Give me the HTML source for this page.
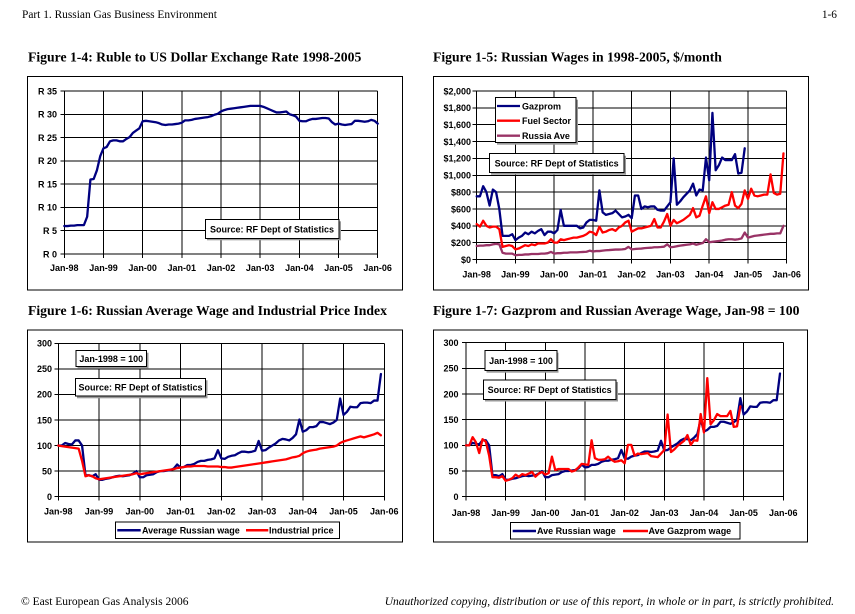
<!DOCTYPE html>
<html><head><meta charset="utf-8"><style>
html,body{margin:0;padding:0;background:#fff;}
svg{display:block;}
.hd{font-family:"Liberation Serif",serif;font-size:11.4px;fill:#000;}
.ti{font-family:"Liberation Serif",serif;font-size:13.7px;font-weight:bold;fill:#000;}
.ft{font-family:"Liberation Serif",serif;font-size:11.5px;fill:#000;}
.tk{font-family:"Liberation Sans",sans-serif;font-size:9px;font-weight:bold;fill:#000;}
.g{stroke:#000;stroke-width:1;fill:none;shape-rendering:crispEdges;}
.bx{fill:#fff;stroke:#000;stroke-width:1;shape-rendering:crispEdges;}
.sh{fill:#999;}
.ln{fill:none;stroke-width:2.3;stroke-linejoin:round;stroke-linecap:round;}
</style></head><body>
<svg width="855" height="614" viewBox="0 0 855 614" xmlns="http://www.w3.org/2000/svg">
<rect width="855" height="614" fill="#fff"/>
<text class="hd" x="22" y="18">Part 1. Russian Gas Business Environment</text>
<text class="hd" x="837" y="18" text-anchor="end">1-6</text>

<text class="ti" x="28" y="61.5">Figure 1-4: Ruble to US Dollar Exchange Rate 1998-2005</text>
<text class="ti" x="433" y="61.5">Figure 1-5: Russian Wages in 1998-2005, $/month</text>
<text class="ti" x="28" y="315">Figure 1-6: Russian Average Wage and Industrial Price Index</text>
<text class="ti" x="433" y="315">Figure 1-7: Gazprom and Russian Average Wage, Jan-98 = 100</text>

<!-- ============ CHART 1 ============ -->
<rect class="bx" x="27.5" y="76.5" width="375" height="213.5"/>
<path class="g" d="M64.3 254H377.7M64.3 230.7H377.7M64.3 207.4H377.7M64.3 184.1H377.7M64.3 160.9H377.7M64.3 137.6H377.7M64.3 114.3H377.7M64.3 91H377.7
M64.3 91V258M103.5 91V258M142.7 91V258M181.8 91V258M221 91V258M260.2 91V258M299.4 91V258M338.5 91V258M377.7 91V258
M60.3 254H64.3M60.3 230.7H64.3M60.3 207.4H64.3M60.3 184.1H64.3M60.3 160.9H64.3M60.3 137.6H64.3M60.3 114.3H64.3M60.3 91H64.3"/>
<g class="tk" text-anchor="end">
<text x="57" y="257.3">R 0</text><text x="57" y="234">R 5</text><text x="57" y="210.7">R 10</text><text x="57" y="187.4">R 15</text><text x="57" y="164.2">R 20</text><text x="57" y="140.9">R 25</text><text x="57" y="117.6">R 30</text><text x="57" y="94.3">R 35</text>
</g>
<g class="tk" text-anchor="middle">
<text x="64.3" y="271">Jan-98</text><text x="103.5" y="271">Jan-99</text><text x="142.7" y="271">Jan-00</text><text x="181.8" y="271">Jan-01</text><text x="221" y="271">Jan-02</text><text x="260.2" y="271">Jan-03</text><text x="299.4" y="271">Jan-04</text><text x="338.5" y="271">Jan-05</text><text x="377.7" y="271">Jan-06</text>
</g>
<g transform="translate(64.3,254) scale(3.2646,-4.6571)">
<polyline class="ln" vector-effect="non-scaling-stroke" stroke="#000080" points="0,6 1,6 2,6.1 3,6.1 4,6.2 5,6.2 6,6.2 7,8 8,16 9,16.1 10,18 11,21 12,22.7 13,23 14,24.2 15,24.4 16,24.4 17,24.2 18,24.2 19,24.7 20,25.1 21,26 22,26.5 23,27 24,28.5 25,28.6 26,28.5 27,28.4 28,28.3 29,28.1 30,27.8 31,27.7 32,27.8 33,27.8 34,27.9 35,28 36,28.2 37,28.7 38,28.7 39,28.8 40,29 41,29.1 42,29.2 43,29.3 44,29.4 45,29.6 46,29.9 47,30.1 48,30.6 49,30.9 50,31.1 51,31.2 52,31.3 53,31.4 54,31.5 55,31.6 56,31.7 57,31.8 58,31.8 59,31.8 60,31.8 61,31.6 62,31.3 63,31 64,30.7 65,30.4 66,30.4 67,30.5 68,30.6 69,30 70,29.8 71,29.5 72,28.6 73,28.5 74,28.5 75,28.8 76,29 77,29 78,29.1 79,29.2 80,29.2 81,29.1 82,28.3 83,27.8 84,28 85,27.8 86,27.7 87,27.8 88,27.9 89,28.6 90,28.6 91,28.5 92,28.4 93,28.5 94,28.8 95,28.6 96,28"/>
</g>
<rect class="sh" x="207" y="221.3" width="134" height="19"/>
<rect class="bx" x="205.5" y="219.5" width="133.5" height="19"/>
<text class="tk" x="272" y="232.3" text-anchor="middle">Source: RF Dept of Statistics</text>

<!-- ============ CHART 2 ============ -->
<rect class="bx" x="433.5" y="76.5" width="375" height="213.5"/>
<path class="g" d="M476.7 259.5H786.7M476.7 242.65H786.7M476.7 225.8H786.7M476.7 208.95H786.7M476.7 192.1H786.7M476.7 175.25H786.7M476.7 158.4H786.7M476.7 141.55H786.7M476.7 124.7H786.7M476.7 107.85H786.7M476.7 91H786.7
M476.7 91V263.5M515.45 91V263.5M554.2 91V263.5M592.95 91V263.5M631.7 91V263.5M670.45 91V263.5M709.2 91V263.5M747.95 91V263.5M786.7 91V263.5
M472.7 259.5H476.7M472.7 242.65H476.7M472.7 225.8H476.7M472.7 208.95H476.7M472.7 192.1H476.7M472.7 175.25H476.7M472.7 158.4H476.7M472.7 141.55H476.7M472.7 124.7H476.7M472.7 107.85H476.7M472.7 91H476.7"/>
<g class="tk" text-anchor="end">
<text x="471" y="262.8">$0</text><text x="471" y="246">$200</text><text x="471" y="229.1">$400</text><text x="471" y="212.3">$600</text><text x="471" y="195.4">$800</text><text x="471" y="178.6">$1,000</text><text x="471" y="161.7">$1,200</text><text x="471" y="144.9">$1,400</text><text x="471" y="128">$1,600</text><text x="471" y="111.2">$1,800</text><text x="471" y="94.3">$2,000</text>
</g>
<g class="tk" text-anchor="middle">
<text x="476.7" y="277.3">Jan-98</text><text x="515.45" y="277.3">Jan-99</text><text x="554.2" y="277.3">Jan-00</text><text x="592.95" y="277.3">Jan-01</text><text x="631.7" y="277.3">Jan-02</text><text x="670.45" y="277.3">Jan-03</text><text x="709.2" y="277.3">Jan-04</text><text x="747.95" y="277.3">Jan-05</text><text x="786.7" y="277.3">Jan-06</text>
</g>
<g transform="translate(476.7,259.5) scale(3.2292,-0.08425)">
<polyline class="ln" vector-effect="non-scaling-stroke" stroke="#000080" points="0,750 1,750 2,870 3,800 4,640 5,830 6,800 7,600 8,280 9,280 10,280 11,300 12,230 13,260 14,280 15,320 16,300 17,330 18,310 19,340 20,360 21,290 22,330 23,330 24,310 25,350 26,590 27,400 28,400 29,400 30,400 31,400 32,370 33,380 34,440 35,470 36,470 37,460 38,820 39,560 40,530 41,540 42,550 43,580 44,540 45,500 46,510 47,530 48,490 49,760 50,760 51,600 52,630 53,620 54,630 55,630 56,590 57,580 58,580 59,630 60,680 61,1200 62,650 63,690 64,740 65,780 66,820 67,900 68,760 69,830 70,820 71,1210 72,940 73,1740 74,1060 75,1120 76,1210 77,1180 78,1180 79,1180 80,1250 81,1020 82,1030 83,1320"/>
<polyline class="ln" vector-effect="non-scaling-stroke" stroke="#ff0000" points="0,420 1,390 2,460 3,400 4,380 5,390 6,390 7,360 8,150 9,160 10,170 11,160 12,120 13,130 14,150 15,170 16,160 17,180 18,170 19,190 20,190 21,190 22,200 23,240 24,200 25,200 26,240 27,230 28,240 29,250 30,260 31,260 32,270 33,280 34,300 35,330 36,320 37,290 38,390 39,320 40,330 41,350 42,360 43,340 44,380 45,400 46,440 47,460 48,330 49,350 50,370 51,370 52,380 53,390 54,400 55,480 56,380 57,380 58,450 59,540 60,400 61,470 62,430 63,450 64,470 65,500 66,530 67,610 68,500 69,520 70,640 71,750 72,550 73,680 74,600 75,600 76,620 77,640 78,650 79,800 80,640 81,610 82,660 83,820 84,720 85,840 86,760 87,750 88,760 89,770 90,770 91,1010 92,790 93,770 94,780 95,1260"/>
<polyline class="ln" vector-effect="non-scaling-stroke" stroke="#993366" points="0,160 1,165 2,165 3,170 4,170 5,180 6,185 7,180 8,80 9,70 10,70 11,70 12,50 13,55 14,55 15,60 16,60 17,65 18,65 19,65 20,70 21,70 22,75 23,90 24,70 25,75 26,75 27,80 28,80 29,85 30,85 31,85 32,88 33,90 34,92 35,105 36,95 37,100 38,100 39,105 40,110 41,112 42,115 43,118 44,118 45,120 46,125 47,150 48,120 49,125 50,128 51,130 52,135 53,138 54,140 55,145 56,145 57,148 58,152 59,180 60,145 61,150 62,158 63,165 64,170 65,175 66,180 67,190 68,175 69,185 70,195 71,240 72,205 73,210 74,215 75,220 76,225 77,235 78,240 79,240 80,235 81,240 82,250 83,320 84,260 85,270 86,280 87,285 88,290 89,295 90,300 91,305 92,305 93,310 94,310 95,400"/>
</g>
<rect class="sh" x="497" y="99.7" width="81" height="45"/>
<rect class="bx" x="495.5" y="97.5" width="80.5" height="45"/>
<line x1="497" y1="106" x2="520" y2="106" stroke="#000080" stroke-width="2.3"/>
<line x1="497" y1="120.7" x2="520" y2="120.7" stroke="#ff0000" stroke-width="2.3"/>
<line x1="497" y1="135.7" x2="520" y2="135.7" stroke="#993366" stroke-width="2.3"/>
<text class="tk" x="522" y="109.3">Gazprom</text>
<text class="tk" x="522" y="124">Fuel Sector</text>
<text class="tk" x="522" y="139">Russia Ave</text>
<rect class="sh" x="491" y="155.7" width="135" height="19"/>
<rect class="bx" x="489.5" y="153.5" width="134.5" height="19"/>
<text class="tk" x="556.7" y="166.3" text-anchor="middle">Source: RF Dept of Statistics</text>

<!-- ============ CHART 3 ============ -->
<rect class="bx" x="27.5" y="330" width="375" height="212"/>
<path class="g" d="M58.3 496.7H384.3M58.3 471.1H384.3M58.3 445.6H384.3M58.3 420H384.3M58.3 394.4H384.3M58.3 368.9H384.3M58.3 343.3H384.3
M58.3 343.3V500.7M99.05 343.3V500.7M139.8 343.3V500.7M180.55 343.3V500.7M221.3 343.3V500.7M262.05 343.3V500.7M302.8 343.3V500.7M343.55 343.3V500.7M384.3 343.3V500.7
M54.3 496.7H58.3M54.3 471.1H58.3M54.3 445.6H58.3M54.3 420H58.3M54.3 394.4H58.3M54.3 368.9H58.3M54.3 343.3H58.3"/>
<g class="tk" text-anchor="end">
<text x="52" y="500">0</text><text x="52" y="474.4">50</text><text x="52" y="448.9">100</text><text x="52" y="423.3">150</text><text x="52" y="397.7">200</text><text x="52" y="372.2">250</text><text x="52" y="346.6">300</text>
</g>
<g class="tk" text-anchor="middle">
<text x="58.3" y="514.5">Jan-98</text><text x="99.05" y="514.5">Jan-99</text><text x="139.8" y="514.5">Jan-00</text><text x="180.55" y="514.5">Jan-01</text><text x="221.3" y="514.5">Jan-02</text><text x="262.05" y="514.5">Jan-03</text><text x="302.8" y="514.5">Jan-04</text><text x="343.55" y="514.5">Jan-05</text><text x="384.3" y="514.5">Jan-06</text>
</g>
<g transform="translate(58.3,496.7) scale(3.3958,-0.51133)">
<polyline class="ln" vector-effect="non-scaling-stroke" stroke="#000080" points="0,100 1,100 2,105 3,103 4,102 5,110 6,110 7,100 8,42 9,42 10,40 11,44 12,33 13,33 14,35 15,36 16,38 17,40 18,41 19,40 20,41 21,42 22,45 23,50 24,38 25,38 26,42 27,43 28,44 29,48 30,50 31,50 32,51 33,52 34,55 35,63 36,57 37,58 38,62 39,62 40,64 41,68 42,70 43,70 44,72 45,73 46,75 47,91 48,75 49,74 50,78 51,80 52,81 53,85 54,88 55,88 56,87 57,88 58,90 59,109 60,90 61,91 62,96 63,100 64,104 65,110 66,113 67,112 68,110 69,115 70,122 71,151 72,127 73,130 74,136 75,136 76,138 77,146 78,146 79,144 80,142 81,145 82,150 83,192 84,160 85,166 86,176 87,175 88,175 89,183 90,184 91,184 92,183 93,188 94,188 95,240"/>
<polyline class="ln" vector-effect="non-scaling-stroke" stroke="#ff0000" points="0,100 1,99 2,98 3,97 4,96 5,95 6,94 7,70 8,40 9,42 10,40 11,36 12,34 13,35 14,36 15,37 16,38 17,39 18,40 19,41 20,42 21,43 22,44 23,46 24,44 25,45 26,46 27,47 28,48 29,49 30,50 31,51 32,52 33,53 34,54 35,56 36,57 37,58 38,59 39,59 40,60 41,60 42,60 43,60 44,59 45,59 46,59 47,59 48,58 49,58 50,57 51,57 52,58 53,59 54,60 55,61 56,62 57,63 58,64 59,65 60,66 61,67 62,68 63,69 64,70 65,71 66,72 67,73 68,75 69,77 70,78 71,80 72,85 73,88 74,90 75,91 76,92 77,94 78,95 79,96 80,97 81,98 82,100 83,105 84,108 85,110 86,112 87,114 88,116 89,118 90,116 91,118 92,120 93,122 94,125 95,120"/>
</g>
<rect class="sh" x="77.5" y="352.7" width="71" height="16"/>
<rect class="bx" x="76" y="350.5" width="70.5" height="16"/>
<text class="tk" x="111.3" y="361.8" text-anchor="middle">Jan-1998 = 100</text>
<rect class="sh" x="77" y="380.3" width="130.5" height="18"/>
<rect class="bx" x="75.5" y="378.5" width="130" height="17.5"/>
<text class="tk" x="140.5" y="390.5" text-anchor="middle">Source: RF Dept of Statistics</text>
<rect class="bx" x="115.5" y="522" width="224" height="16.5"/>
<line x1="117.3" y1="530.3" x2="140.7" y2="530.3" stroke="#000080" stroke-width="2.5"/>
<text class="tk" x="142" y="533.5">Average Russian wage</text>
<line x1="246" y1="530.3" x2="268.3" y2="530.3" stroke="#ff0000" stroke-width="2.5"/>
<text class="tk" x="269" y="533.5">Industrial price</text>

<!-- ============ CHART 4 ============ -->
<rect class="bx" x="433.5" y="330" width="374" height="212"/>
<path class="g" d="M466 496.7H783.3M466 471H783.3M466 445.4H783.3M466 419.7H783.3M466 394H783.3M466 368.4H783.3M466 342.7H783.3
M466 342.7V500.7M505.7 342.7V500.7M545.3 342.7V500.7M585 342.7V500.7M624.6 342.7V500.7M664.3 342.7V500.7M704 342.7V500.7M743.6 342.7V500.7M783.3 342.7V500.7
M462 496.7H466M462 471H466M462 445.4H466M462 419.7H466M462 394H466M462 368.4H466M462 342.7H466"/>
<g class="tk" text-anchor="end">
<text x="458.5" y="500">0</text><text x="458.5" y="474.3">50</text><text x="458.5" y="448.7">100</text><text x="458.5" y="423">150</text><text x="458.5" y="397.3">200</text><text x="458.5" y="371.7">250</text><text x="458.5" y="346">300</text>
</g>
<g class="tk" text-anchor="middle">
<text x="466" y="516">Jan-98</text><text x="505.7" y="516">Jan-99</text><text x="545.3" y="516">Jan-00</text><text x="585" y="516">Jan-01</text><text x="624.6" y="516">Jan-02</text><text x="664.3" y="516">Jan-03</text><text x="704" y="516">Jan-04</text><text x="743.6" y="516">Jan-05</text><text x="783.3" y="516">Jan-06</text>
</g>
<g transform="translate(466,496.7) scale(3.3052,-0.51333)">
<polyline class="ln" vector-effect="non-scaling-stroke" stroke="#000080" points="0,100 1,100 2,105 3,103 4,102 5,110 6,110 7,100 8,42 9,42 10,40 11,44 12,33 13,33 14,35 15,36 16,38 17,40 18,41 19,40 20,41 21,42 22,45 23,50 24,38 25,38 26,42 27,43 28,44 29,48 30,50 31,50 32,51 33,52 34,55 35,63 36,57 37,58 38,62 39,62 40,64 41,68 42,70 43,70 44,72 45,73 46,75 47,91 48,75 49,74 50,78 51,80 52,81 53,85 54,88 55,88 56,87 57,88 58,90 59,109 60,90 61,91 62,96 63,100 64,104 65,110 66,113 67,112 68,110 69,115 70,122 71,151 72,127 73,130 74,136 75,136 76,138 77,146 78,146 79,144 80,142 81,145 82,150 83,192 84,160 85,166 86,176 87,175 88,175 89,183 90,184 91,184 92,183 93,188 94,188 95,240"/>
<polyline class="ln" vector-effect="non-scaling-stroke" stroke="#ff0000" points="0,100 1,100 2,116 3,106 4,85 5,112 6,107 7,80 8,38 9,38 10,37 11,40 12,31 13,33 14,36 15,43 16,39 17,44 18,42 19,45 20,48 21,39 22,45 23,48 24,43 25,46 26,78 27,52 28,54 29,54 30,54 31,54 32,49 33,51 34,57 35,64 36,63 37,62 38,110 39,75 40,72 41,72 42,73 43,78 44,72 45,68 46,69 47,71 48,65 49,101 50,101 51,80 52,84 53,83 54,84 55,85 56,79 57,78 58,77 59,84 60,91 61,160 62,87 63,92 64,99 65,104 66,109 67,120 68,101 69,110 70,109 71,161 72,125 73,231 74,141 75,149 76,161 77,157 78,157 79,157 80,167 81,136 82,137 83,176"/>
</g>
<rect class="sh" x="486.5" y="352.7" width="72" height="20"/>
<rect class="bx" x="485" y="350.5" width="72" height="20"/>
<text class="tk" x="521" y="364" text-anchor="middle">Jan-1998 = 100</text>
<rect class="sh" x="485" y="382" width="133" height="19.5"/>
<rect class="bx" x="483.5" y="380" width="132.5" height="19.3"/>
<text class="tk" x="549.7" y="392.8" text-anchor="middle">Source: RF Dept of Statistics</text>
<rect class="bx" x="510.5" y="522.5" width="229.5" height="16.5"/>
<line x1="512.7" y1="531" x2="536" y2="531" stroke="#000080" stroke-width="2.5"/>
<text class="tk" x="537" y="534.2">Ave Russian wage</text>
<line x1="623" y1="531" x2="648" y2="531" stroke="#ff0000" stroke-width="2.5"/>
<text class="tk" x="648.5" y="534.2">Ave Gazprom wage</text>

<text class="ft" x="21" y="605">© East European Gas Analysis 2006</text>
<text class="ft" x="834" y="605" text-anchor="end" font-style="italic">Unauthorized copying, distribution or use of this report, in whole or in part, is strictly prohibited.</text>
</svg>
</body></html>
